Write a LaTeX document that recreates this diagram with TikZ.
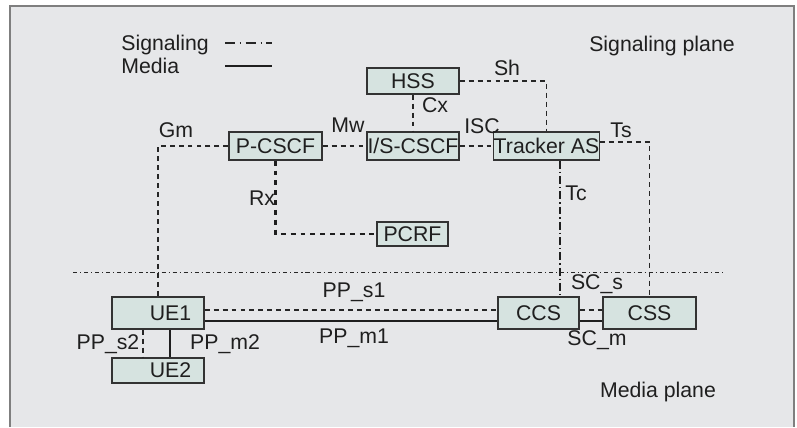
\documentclass[tikz,border=0pt]{standalone}
\usepackage{fontspec}
\setmainfont{Liberation Sans}
\definecolor{planebg}{HTML}{E6E7E9}
\definecolor{boxfill}{HTML}{D6E3E0}
\definecolor{boxline}{HTML}{333333}
\definecolor{framegray}{HTML}{7F7F7F}

\begin{document}
\begin{tikzpicture}[
  font=\fontsize{12.1}{13}\selectfont,
  entity/.style={draw=boxline,fill=boxfill,line width=0.75pt,inner sep=0pt,minimum height=0.56cm,text=black!88},
  sig/.style={black!85,line width=0.65pt,dash pattern=on 2.8pt off 2.3pt},
  media/.style={black!88,line width=1.6pt},
  rxline/.style={black!88,line width=1.3pt,dash pattern=on 2.8pt off 2.8pt},
  tcline/.style={black!88,line width=1.4pt,dash pattern=on 4.5pt off 1.7pt on 0.8pt off 1.7pt},
  divider/.style={black!85,line width=0.55pt,dash pattern=on 2.3pt off 1.7pt on 0.6pt off 1.7pt},
  lbl/.style={inner sep=0pt,text=black!88}
]
  \useasboundingbox (0,0) rectangle (15.94,8.54);
  \fill[planebg] (0.2,0) rectangle (15.88,8.42);
  \draw[framegray,line width=0.8pt] (0.2,0) -- (0.2,8.42) -- (15.88,8.42) -- (15.88,0);

  % legend
  \node[lbl,anchor=west] (legsig) at (2.42,7.64){Signaling};
  \node[lbl,anchor=west] (legmedia) at (2.42,7.23){Media};
  \draw[black!85,line width=0.65pt,dash pattern=on 5.6pt off 2.8pt on 0.6pt off 2.8pt] (4.5,7.68) -- (5.44,7.68);
  \draw[media] (4.5,7.22) -- (5.44,7.22);
  \node[lbl] (sigplane) at (13.24,7.62){Signaling plane};
  \node[lbl] (mediaplane) at (13.16,0.70){Media plane};
  \draw[divider] (1.46,3.1) -- (14.5,3.1);

  % entities
  \node[entity,minimum width=1.84cm,minimum height=0.52cm] (hss) at (8.26,6.92){HSS};
  \node[entity,minimum width=1.86cm] (pcscf) at (5.51,5.62){P-CSCF};
  \node[entity,minimum width=1.84cm] (iscscf) at (8.26,5.62){I/S-CSCF};
  \node[entity,minimum width=1.94cm] (tracker) at (10.93,5.62){Tracker AS};
  \node[entity,minimum width=1.42cm,minimum height=0.48cm] (pcrf) at (8.25,3.86){PCRF};
  \node[entity,minimum width=1.84cm,minimum height=0.64cm] (ue1) at (3.16,2.28){\hspace*{0.5cm}UE1};
  \node[entity,minimum width=1.84cm,minimum height=0.5cm] (ue2) at (3.16,1.13){\hspace*{0.5cm}UE2};
  \node[entity,minimum width=1.62cm,minimum height=0.64cm] (ccs) at (10.77,2.28){CCS};
  \node[entity,minimum width=1.86cm,minimum height=0.64cm] (css) at (12.99,2.28){CSS};

  % signaling plane
  \draw[sig] (pcscf.west) -| (ue1.north);
  \draw[sig] (pcscf.east) -- (iscscf.west);
  \draw[sig] (hss.south) -- (iscscf.north);
  \draw[sig] (iscscf.east) -- (tracker.west);
  \draw[sig] (hss.east) -| (tracker.north);
  \draw[sig] ([yshift=0.08cm]tracker.east) -| (css.north);
  \draw[tcline] ([xshift=0.27cm]tracker.south) -- ([xshift=0.43cm]ccs.north);
  \draw[rxline] (pcscf.south) |- (pcrf.west);
  \node[lbl] (gm) at (3.52,5.94){Gm};
  \node[lbl] (mw) at (6.96,6.04){Mw};
  \node[lbl] (cx) at (8.70,6.44){Cx};
  \node[lbl] (isc) at (9.64,6.02){ISC};
  \node[lbl] (sh) at (10.14,7.18){Sh};
  \node[lbl] (ts) at (12.42,5.94){Ts};
  \node[lbl] (tc) at (11.52,4.68){Tc};
  \node[lbl] (rx) at (5.24,4.58){Rx};

  % media plane
  \draw[sig] ([yshift=0.06cm]ue1.east) -- ([yshift=0.06cm]ccs.west);
  \draw[media] ([yshift=-0.16cm]ue1.east) -- ([yshift=-0.16cm]ccs.west);
  \draw[sig] ([yshift=0.06cm]ccs.east) -- ([yshift=0.06cm]css.west);
  \draw[media] ([yshift=-0.16cm]ccs.east) -- ([yshift=-0.16cm]css.west);
  \draw[sig] ([xshift=-0.3cm]ue1.south) -- ([xshift=-0.3cm]ue2.north);
  \draw[media] ([xshift=0.24cm]ue1.south) -- ([xshift=0.24cm]ue2.north);
  \node[lbl] (pps1) at (7.08,2.70){PP\_s1};
  \node[lbl] (ppm1) at (7.08,1.78){PP\_m1};
  \node[lbl] (pps2) at (2.16,1.66){PP\_s2};
  \node[lbl] (ppm2) at (4.50,1.66){PP\_m2};
  \node[lbl] (scs) at (11.94,2.86){SC\_s};
  \node[lbl] (scm) at (11.94,1.74){SC\_m};
\end{tikzpicture}
\end{document}
